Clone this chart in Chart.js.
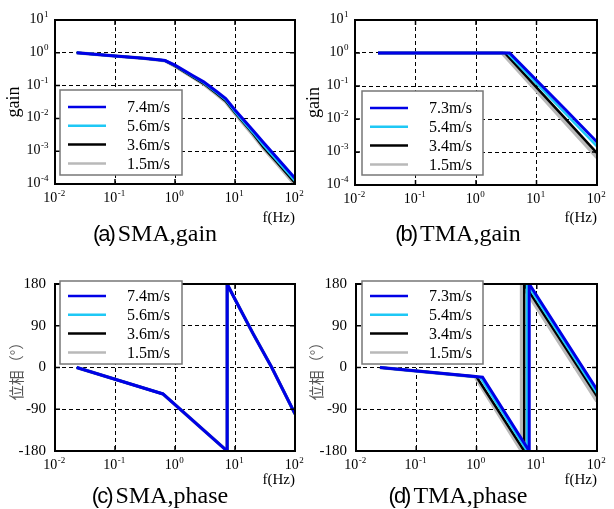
<!DOCTYPE html>
<html>
<head>
<meta charset="utf-8">
<script src="https://cdn.jsdelivr.net/npm/chart.js@4/dist/chart.umd.min.js"></script>
<style>
  body { margin: 0; background: #fff; }
  #wrap { position: relative; width: 614px; height: 509px; overflow: hidden; }
  canvas { position: absolute; }
  .cap { position: absolute; width: 220px; text-align: center; font: 24px "Liberation Serif"; line-height: 28px; color: #000; white-space: nowrap; }
  .cap span { font-family: "Liberation Sans"; font-size: 22px; letter-spacing: -2px; margin-right: 4px; }
</style>
</head>
<body>
<div id="wrap">
  <canvas id="cA" width="307" height="228" style="left:0;top:0"></canvas>
  <canvas id="cB" width="314" height="228" style="left:300px;top:0"></canvas>
  <canvas id="cC" width="307" height="240" style="left:0;top:250px"></canvas>
  <canvas id="cD" width="314" height="240" style="left:300px;top:250px"></canvas>
  <div class="cap" style="left:45px;top:219px"><span>(a)</span>SMA,gain</div>
  <div class="cap" style="left:348px;top:219px"><span>(b)</span>TMA,gain</div>
  <div class="cap" style="left:50px;top:481px"><span>(c)</span>SMA,phase</div>
  <div class="cap" style="left:348px;top:481px"><span>(d)</span>TMA,phase</div>
</div>
<script>
// 軸の目盛り
const xTicks = [0.01, 0.1, 1, 10, 100];
const gainTicks = [1e-4, 1e-3, 1e-2, 1e-1, 1, 10];
const phaseTicks = [-180, -90, 0, 90, 180];

// 凡例
const smaLabels = ['7.4m/s', '5.6m/s', '3.6m/s', '1.5m/s'];
const tmaLabels = ['7.3m/s', '5.4m/s', '3.4m/s', '1.5m/s'];

// (a) SMA gain
const smaGainF  = [0.023, 0.1, 0.3, 0.68, 1, 2, 3, 5, 7, 10, 20, 30, 50, 100];
const smaGain74 = [1.0, 0.8, 0.68, 0.58, 0.42, 0.2, 0.13, 0.065, 0.04, 0.018, 0.0043, 0.0018, 0.00063, 0.00015];
const smaGain56 = [1.0, 0.8, 0.68, 0.58, 0.41, 0.19, 0.122, 0.06, 0.037, 0.016, 0.0037, 0.0015, 0.00052, 0.000125];
const smaGain36 = [1.0, 0.8, 0.68, 0.58, 0.40, 0.18, 0.115, 0.056, 0.034, 0.015, 0.0034, 0.0013, 0.00046, 0.000108];
const smaGain15 = [1.0, 0.8, 0.68, 0.57, 0.39, 0.175, 0.11, 0.053, 0.032, 0.014, 0.0031, 0.0012, 0.00042, 0.000095];

// (b) TMA gain
const tmaGainF  = [0.024, 2.7, 3.0, 3.3, 3.6, 10, 30, 100];
const tmaGain73 = [1, 1, 1, 1, 1, 0.149, 0.0194, 0.002];
const tmaGain54 = [1, 1, 1, 1, 0.847, 0.12, 0.0148, 0.00148];
const tmaGain34 = [1, 1, 1, 0.828, 0.695, 0.091, 0.0102, 0.00093];
const tmaGain15 = [1, 1, 0.808, 0.667, 0.56, 0.071, 0.0077, 0.00068];

// (c) SMA phase (4本とも重なっている)
const smaPhaseF  = [0.023, 0.63, 1, 3, 7.4, 7.4, 10, 20, 41, 100];
const smaPhase74 = [0, -57, -80, -135, -180, 180, 147, 73, 0, -100];
const smaPhase56 = [0, -57, -80, -135, -180, 180, 147, 73, 0, -100];
const smaPhase36 = [0, -57, -80, -135, -180, 180, 147, 73, 0, -100];
const smaPhase15 = [0, -57, -80, -135, -180, 180, 147, 73, 0, -100];

// (d) TMA phase
const tmaPhaseF73 = [0.025, 1.26, 7.5, 7.5, 100];
const tmaPhase73  = [0, -21, -180, 180, -48];
const tmaPhaseF54 = [0.025, 1.15, 6.9, 6.9, 100];
const tmaPhase54  = [0, -21, -180, 180, -55];
const tmaPhaseF34 = [0.025, 1.0, 6.2, 6.2, 100];
const tmaPhase34  = [0, -20, -180, 180, -62];
const tmaPhaseF15 = [0.025, 0.95, 5.6, 5.6, 100];
const tmaPhase15  = [0, -20, -180, 180, -73];

// 線の色と太さ
const colors = ['#0000e6', '#1ec8f5', '#000000', '#b9b9b9'];
const widths = [3, 2.5, 2.5, 3.5];

Chart.defaults.font.family = '"Liberation Serif"';
Chart.defaults.color = '#000';

const pts = (fs, ys) => fs.map((f, i) => ({x: f, y: ys[i]}));

function drawPow(ctx, exp, x, y, align) {
  ctx.font = '14px "Liberation Serif"';
  const wb = ctx.measureText('10').width;
  ctx.font = '9px "Liberation Serif"';
  const ws = ctx.measureText(String(exp)).width;
  const x0 = align === 'center' ? x - (wb + ws) / 2 : x - wb - ws;
  ctx.textAlign = 'left';
  ctx.textBaseline = 'alphabetic';
  ctx.font = '14px "Liberation Serif"';
  ctx.fillText('10', x0, y);
  ctx.font = '9px "Liberation Serif"';
  ctx.fillText(String(exp), x0 + wb + 0.5, y - 6);
}

// 枠、内向きの目盛り、凡例、10^n ラベル
const decor = {
  id: 'decor',
  afterDatasetsDraw(chart, args, opts) {
    const {ctx, chartArea: a, scales} = chart;
    ctx.save();
    ctx.strokeStyle = '#000';
    ctx.lineWidth = 1.5;
    ctx.beginPath();
    scales.x.ticks.forEach(t => {
      const p = scales.x.getPixelForValue(t.value);
      ctx.moveTo(p, a.bottom); ctx.lineTo(p, a.bottom - 5);
      ctx.moveTo(p, a.top); ctx.lineTo(p, a.top + 5);
    });
    scales.y.ticks.forEach(t => {
      const p = scales.y.getPixelForValue(t.value);
      ctx.moveTo(a.left, p); ctx.lineTo(a.left + 5, p);
      ctx.moveTo(a.right, p); ctx.lineTo(a.right - 5, p);
    });
    ctx.stroke();
    ctx.lineWidth = 2;
    ctx.strokeRect(a.left, a.top, a.right - a.left, a.bottom - a.top);

    // 凡例
    const lg = opts.legend;
    const bx = a.left + lg.dx, by = a.top + lg.dy;
    ctx.fillStyle = '#fff';
    ctx.fillRect(bx, by, lg.w, lg.h);
    ctx.strokeStyle = '#777';
    ctx.lineWidth = 1.5;
    ctx.strokeRect(bx, by, lg.w, lg.h);
    chart.data.datasets.forEach((ds, i) => {
      const ry = by + lg.first + i * 18.8;
      ctx.strokeStyle = ds.borderColor;
      ctx.lineWidth = 2.5;
      ctx.beginPath();
      ctx.moveTo(bx + 8, ry); ctx.lineTo(bx + 46, ry);
      ctx.stroke();
      ctx.fillStyle = '#000';
      ctx.font = '16px "Liberation Serif"';
      ctx.textAlign = 'right';
      ctx.textBaseline = 'middle';
      ctx.fillText(ds.label, bx + 110, ry + 1);
    });
    ctx.restore();
  },
  afterDraw(chart) {
    const {ctx, chartArea: a, scales} = chart;
    ctx.save();
    ctx.fillStyle = '#000';
    scales.x.ticks.forEach(t => {
      const p = scales.x.getPixelForValue(t.value);
      drawPow(ctx, Math.round(Math.log10(t.value)), p - 1, a.bottom + 18, 'center');
    });
    if (scales.y.type === 'logarithmic') {
      scales.y.ticks.forEach(t => {
        const p = scales.y.getPixelForValue(t.value);
        drawPow(ctx, Math.round(Math.log10(t.value)), a.left - 7, p + 3, 'right');
      });
    }
    ctx.restore();
  }
};

function makePanel(id, area, legend, labels, series, isGain, yTitle) {
  const cv = document.getElementById(id);
  const datasets = series.map((s, i) => ({
    label: labels[i],
    data: pts(s[0], s[1]),
    borderColor: colors[i],
    borderWidth: widths[i],
    pointRadius: 0,
    tension: 0,
    fill: false
  }));
  const grid = {color: '#000', lineWidth: 1, drawTicks: false};
  const dash = {display: false, dash: [4, 3]};
  return new Chart(cv, {
    type: 'line',
    data: {datasets},
    options: {
      responsive: false,
      animation: false,
      layout: {padding: {left: 0, top: area.top, right: cv.width - area.right, bottom: 0}},
      plugins: {legend: {display: false}, tooltip: {enabled: false}, decor: {legend}},
      scales: {
        x: {
          type: 'logarithmic', min: 0.01, max: 100,
          afterBuildTicks: s => { s.ticks = xTicks.map(v => ({value: v})); },
          afterFit: s => { s.height = cv.height - area.bottom; },
          grid, border: dash,
          ticks: {display: false},
          title: {display: true, text: 'f(Hz)', align: 'end', font: {size: 15}, padding: {top: 0, bottom: 1}}
        },
        y: {
          type: isGain ? 'logarithmic' : 'linear',
          min: isGain ? 1e-4 : -180, max: isGain ? 10 : 180,
          afterBuildTicks: s => { s.ticks = (isGain ? gainTicks : phaseTicks).map(v => ({value: v})); },
          afterFit: s => { s.width = area.left; },
          grid, border: dash,
          ticks: {display: !isGain, font: {size: 15}, padding: 9},
          title: {display: true, text: yTitle, color: isGain ? '#000' : '#555',
                  font: {size: isGain ? 18 : 15, family: isGain ? '"Liberation Serif"' : '"Noto Sans CJK JP"'},
                  padding: {top: isGain ? 3 : 7, bottom: 0}}
        }
      }
    },
    plugins: [decor]
  });
}

makePanel('cA', {left: 55, top: 20, right: 295, bottom: 184},
  {dx: 5, dy: 70, w: 122, h: 85, first: 17}, smaLabels,
  [[smaGainF, smaGain74], [smaGainF, smaGain56], [smaGainF, smaGain36], [smaGainF, smaGain15]],
  true, 'gain');

makePanel('cB', {left: 55, top: 20, right: 297, bottom: 185},
  {dx: 7, dy: 71, w: 121, h: 84, first: 17}, tmaLabels,
  [[tmaGainF, tmaGain73], [tmaGainF, tmaGain54], [tmaGainF, tmaGain34], [tmaGainF, tmaGain15]],
  true, 'gain');

makePanel('cC', {left: 55, top: 34, right: 295, bottom: 201},
  {dx: 5, dy: -3, w: 122, h: 83, first: 15}, smaLabels,
  [[smaPhaseF, smaPhase74], [smaPhaseF, smaPhase56], [smaPhaseF, smaPhase36], [smaPhaseF, smaPhase15]],
  false, '位相（°）');

makePanel('cD', {left: 56, top: 34, right: 297, bottom: 201},
  {dx: 6, dy: -3, w: 121, h: 83, first: 15}, tmaLabels,
  [[tmaPhaseF73, tmaPhase73], [tmaPhaseF54, tmaPhase54], [tmaPhaseF34, tmaPhase34], [tmaPhaseF15, tmaPhase15]],
  false, '位相（°）');
</script>
</body>
</html>
